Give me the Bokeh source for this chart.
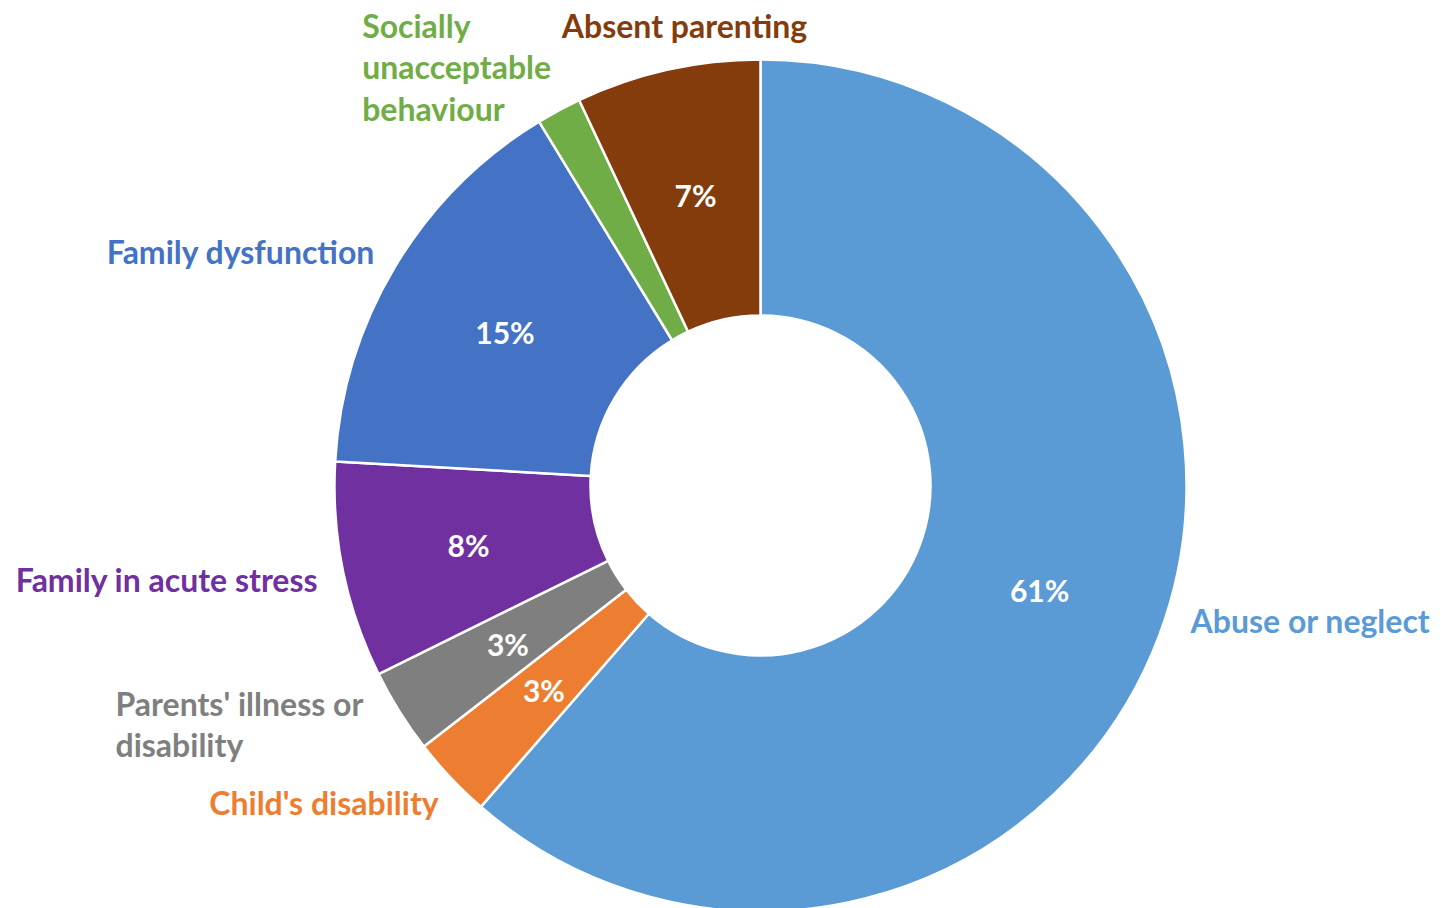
import math
from bokeh.plotting import figure
from bokeh.models import Range1d, ColumnDataSource
from bokeh.core.properties import value
from bokeh.embed import file_html
from bokeh.resources import INLINE

# ---- data ----
categories = ["Abuse or neglect", "Child's disability", "Parents' illness or\ndisability",
              "Family in acute stress", "Family dysfunction",
              "Socially\nunacceptable\nbehaviour", "Absent parenting"]
shares = [61.4, 3.1, 3.2, 8.2, 15.4, 1.7, 7.0]
pct_labels = ["61%", "3%", "3%", "8%", "15%", "", "7%"]

# ---- styles / layout ----
colors = ["#5B9BD5", "#ED7D31", "#7F7F7F", "#7030A0", "#4472C4", "#70AD47", "#843C0C"]
label_colors = ["#5B9BD5", "#ED7D31", "#7F7F7F", "#7030A0", "#4472C4", "#70AD47", "#843C0C"]
W, H = 1441, 908
CX, CY = 760, H - 485
R_OUT, R_IN = 426, 170
LABEL_GAP = 14
label_align = ["left", "right", "left", "right", "right", "left", "center"]
label_dx = [18, -2, -272, -11, -8, -190, 20]
label_dy = [-19, 15, 5, 6, -8, -31, -31]
FONT = "Lato"

total = sum(shares)
starts, ends, mids = [], [], []
cum = 0.0
for s in shares:
    a0 = math.pi / 2 - 2 * math.pi * cum / total
    cum += s
    a1 = math.pi / 2 - 2 * math.pi * cum / total
    starts.append(a0)
    ends.append(a1)
    mids.append((a0 + a1) / 2)

p = figure(width=W, height=H, x_range=Range1d(0, W), y_range=Range1d(0, H),
           output_backend="svg", toolbar_location=None, min_border=0)
p.axis.visible = False
p.grid.visible = False
p.outline_line_color = None
p.background_fill_color = "white"

src = ColumnDataSource(dict(start=starts, end=ends, color=colors))
p.annular_wedge(x=CX, y=CY, inner_radius=R_IN, outer_radius=R_OUT,
                start_angle="start", end_angle="end", direction="clock",
                fill_color="color", line_color="white", line_width=2.5, source=src)

# percentage labels at mid radius
rm = (R_IN + R_OUT) / 2
pct_src = ColumnDataSource(dict(
    x=[CX + rm * math.cos(m) for m in mids],
    y=[CY + rm * math.sin(m) for m in mids],
    t=pct_labels))
p.text(x="x", y="y", text="t", source=pct_src, text_color="white",
       text_font=value(FONT), text_font_style="bold", text_font_size="30px",
       text_align="center", text_baseline="middle")

# category labels
rl = R_OUT + LABEL_GAP
for i, cat in enumerate(categories):
    x = CX + rl * math.cos(mids[i])
    y = CY + rl * math.sin(mids[i])
    p.text(x=[x], y=[y], text=[cat], x_offset=label_dx[i], y_offset=label_dy[i],
           text_color=label_colors[i], text_font=value(FONT), text_font_style="bold",
           text_font_size="32px", text_align=label_align[i], text_baseline="middle",
           text_line_height=1.06)

open("out.html", "w").write(file_html(p, INLINE))
